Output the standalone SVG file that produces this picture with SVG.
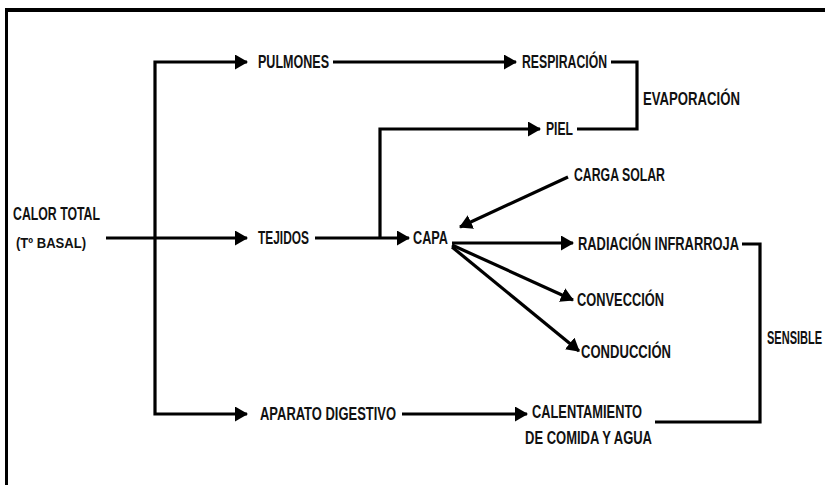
<svg xmlns="http://www.w3.org/2000/svg" width="825" height="485" viewBox="0 0 825 485">
<style>
.t{font-family:"Liberation Sans",Arial,sans-serif;font-weight:bold;font-size:17.5px;fill:#111}
.s{font-size:14px}
.c{fill:none;stroke:#000;stroke-width:3.2}
.f{fill:none;stroke:#000}
</style>
<defs>
<marker id="ah" markerUnits="userSpaceOnUse" markerWidth="13" markerHeight="15" refX="12" refY="7.5" orient="auto">
<path d="M0,0 L13,7.5 L0,15 z" fill="#000"/>
</marker>
</defs>
<rect width="825" height="485" fill="#fff"/>
<g id="frame">
<path class="f" stroke-width="4" d="M5,10 H825"/>
<path class="f" stroke-width="3" d="M6.5,8 V485"/>
</g>
<g id="connectors">
<path class="c" d="M106,238 H247" marker-end="url(#ah)"/>
<path class="c" d="M155,238 V62 H247" marker-end="url(#ah)"/>
<path class="c" d="M155,238 V414 H247" marker-end="url(#ah)"/>
<path class="c" d="M333,62 H516" marker-end="url(#ah)"/>
<path class="c" d="M611,62 H637 V129 H577"/>
<path class="c" d="M315,238 H409" marker-end="url(#ah)"/>
<path class="c" d="M380,238 V129 H540" marker-end="url(#ah)"/>
<path class="c" d="M568,177 L460,227" marker-end="url(#ah)"/>
<path class="c" d="M452,243 H573" marker-end="url(#ah)"/>
<path class="c" d="M452,245 L573,300" marker-end="url(#ah)"/>
<path class="c" d="M452,247 L579,351" marker-end="url(#ah)"/>
<path class="c" d="M742,244 H760 V422 H655"/>
<path class="c" d="M402,414 H527" marker-end="url(#ah)"/>
</g>
<g id="calor"><text class="t" x="13" y="220" textLength="87" lengthAdjust="spacingAndGlyphs">CALOR TOTAL</text><text class="t s" x="16" y="248" textLength="70" lengthAdjust="spacingAndGlyphs">(Tº BASAL)</text></g>
<g id="pulmones"><text class="t" x="258" y="68" textLength="71" lengthAdjust="spacingAndGlyphs">PULMONES</text></g>
<g id="respiracion"><text class="t" x="522" y="68" textLength="85" lengthAdjust="spacingAndGlyphs">RESPIRACIÓN</text></g>
<g id="evaporacion"><text class="t" x="643" y="105" textLength="97" lengthAdjust="spacingAndGlyphs">EVAPORACIÓN</text></g>
<g id="piel"><text class="t" x="546" y="135" textLength="27" lengthAdjust="spacingAndGlyphs">PIEL</text></g>
<g id="carga"><text class="t" x="574" y="181" textLength="91" lengthAdjust="spacingAndGlyphs">CARGA SOLAR</text></g>
<g id="tejidos"><text class="t" x="258" y="244" textLength="51" lengthAdjust="spacingAndGlyphs">TEJIDOS</text></g>
<g id="capa"><text class="t" x="413" y="244" textLength="35" lengthAdjust="spacingAndGlyphs">CAPA</text></g>
<g id="radiacion"><text class="t" x="578" y="250" textLength="161" lengthAdjust="spacingAndGlyphs">RADIACIÓN INFRARROJA</text></g>
<g id="conveccion"><text class="t" x="577" y="306" textLength="87" lengthAdjust="spacingAndGlyphs">CONVECCIÓN</text></g>
<g id="conduccion"><text class="t" x="581" y="358" textLength="90" lengthAdjust="spacingAndGlyphs">CONDUCCIÓN</text></g>
<g id="sensible"><text class="t" transform="translate(767,344) scale(0.63,1)">SENSIBLE</text></g>
<g id="aparato"><text class="t" x="260" y="420" textLength="136" lengthAdjust="spacingAndGlyphs">APARATO DIGESTIVO</text></g>
<g id="calentamiento"><text class="t" x="532" y="418" textLength="110" lengthAdjust="spacingAndGlyphs">CALENTAMIENTO</text><text class="t" x="525" y="444" textLength="127" lengthAdjust="spacingAndGlyphs">DE COMIDA Y AGUA</text></g>
</svg>
